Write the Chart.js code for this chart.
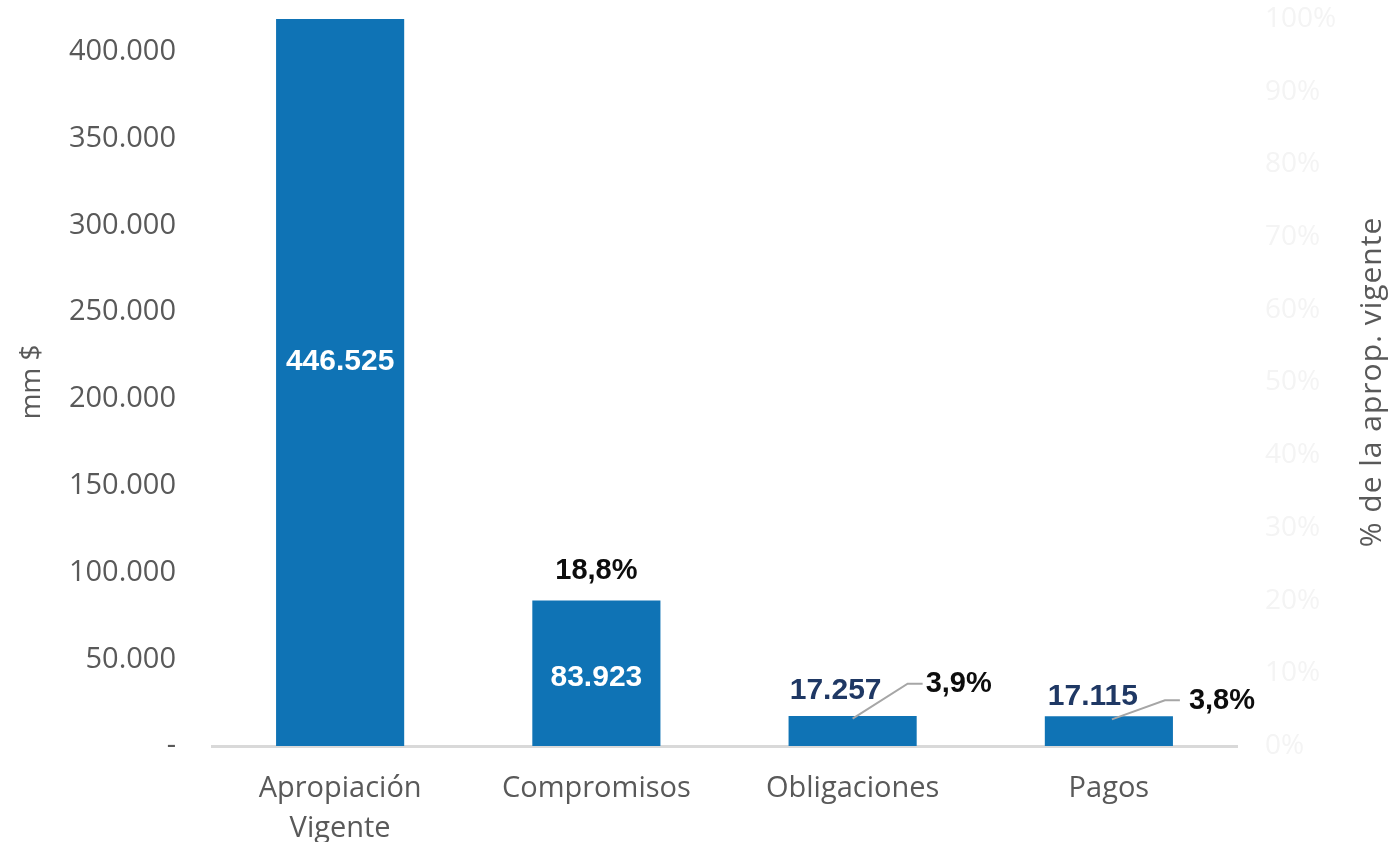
<!DOCTYPE html>
<html>
<head>
<meta charset="utf-8">
<script src="https://cdn.jsdelivr.net/npm/chart.js@4.4.1/dist/chart.umd.min.js"></script>
<style>
  html, body { margin: 0; padding: 0; background: #fff; }
  #wrap { width: 1396px; height: 842px; }
</style>
</head>
<body>
<div id="wrap"><canvas id="chart"></canvas></div>
<script>
// data
const categories = [['Apropiación', 'Vigente'], 'Compromisos', 'Obligaciones', 'Pagos'];
const amounts = [446525, 83923, 17257, 17115];          // mm $
const shares = [null, 18.8, 3.9, 3.8];                   // % de la aprop. vigente
const leftTicks = [0, 50000, 100000, 150000, 200000, 250000, 300000, 350000, 400000];
const rightTicks = [0, 10, 20, 30, 40, 50, 60, 70, 80, 90, 100];

const BAR = '#0f73b5';
const GREY = '#595959';
const NAVY = '#1f3864';

const fmtAmount = v => v === 0 ? '-' : String(v).replace(/\B(?=(\d{3})+(?!\d))/g, '.');
const fmtShare = v => v.toFixed(1).replace('.', ',') + '%';

// label placement (offsets in px from the mark)
const amountLabel = [
  { inside: true, dy: 3 },
  { inside: true, dy: 5 },
  { inside: false, dx: -17, dy: -25 },
  { inside: false, dx: -16, dy: -20 },
];
const shareLabel = [
  null,
  { dx: 0, dy: -38, align: 'center' },
  { dx: 73, dy: -34, align: 'left', leader: [[0, 1], [55, -34], [70, -34]] },
  { dx: 80, dy: -17, align: 'left', leader: [[3, 1], [56, -18], [71, -18]] },
];

const labelsPlugin = {
  id: 'labels',
  afterDatasetsDraw(chart) {
    const ctx = chart.ctx;
    const y = chart.scales.y;
    const bars = chart.getDatasetMeta(0).data;
    const pts = chart.getDatasetMeta(1).data;
    ctx.save();
    ctx.textBaseline = 'middle';
    bars.forEach((el, i) => {
      const st = amountLabel[i];
      ctx.textAlign = 'center';
      ctx.font = 'bold 30px "Liberation Sans", Arial, sans-serif';
      if (st.inside) {
        ctx.fillStyle = '#ffffff';
        ctx.fillText(fmtAmount(amounts[i]), el.x, y.getPixelForValue(amounts[i] / 2) + st.dy);
      } else {
        ctx.fillStyle = NAVY;
        ctx.fillText(fmtAmount(amounts[i]), el.x + st.dx, el.y + st.dy);
      }
    });
    pts.forEach((p, i) => {
      const st = shareLabel[i];
      if (!st || shares[i] == null) return;
      if (st.leader) {
        ctx.strokeStyle = '#a6a6a6';
        ctx.lineWidth = 2;
        ctx.beginPath();
        st.leader.forEach(([lx, ly], k) => {
          if (k === 0) ctx.moveTo(p.x + lx, p.y + ly);
          else ctx.lineTo(p.x + lx, p.y + ly);
        });
        ctx.stroke();
      }
      ctx.font = 'bold 29px "Liberation Sans", Arial, sans-serif';
      ctx.fillStyle = '#0d0d0d';
      ctx.textAlign = st.align;
      ctx.fillText(fmtShare(shares[i]), p.x + st.dx, p.y + st.dy);
    });
    ctx.restore();
  },
  afterDraw(chart) {
    // axis titles, both read bottom to top
    const ctx = chart.ctx;
    ctx.save();
    ctx.fillStyle = GREY;
    ctx.textAlign = 'center';
    ctx.textBaseline = 'middle';
    ctx.font = '28px "Open Sans", sans-serif';
    ctx.translate(32, 382);
    ctx.rotate(-Math.PI / 2);
    ctx.fillText('mm $', 0, 0);
    ctx.restore();

    ctx.save();
    ctx.fillStyle = GREY;
    ctx.textAlign = 'center';
    ctx.textBaseline = 'middle';
    ctx.font = '30px "Open Sans", sans-serif';
    ctx.letterSpacing = '1px';
    ctx.translate(1372, 382);
    ctx.rotate(-Math.PI / 2);
    ctx.fillText('% de la aprop. vigente', 0, 0);
    ctx.restore();
  }
};

new Chart(document.getElementById('chart'), {
  type: 'bar',
  plugins: [labelsPlugin],
  data: {
    labels: categories,
    datasets: [
      {
        type: 'bar',
        data: amounts,
        backgroundColor: BAR,
        yAxisID: 'y',
        categoryPercentage: 1,
        barPercentage: 0.5,
        clip: 0,
        order: 2,
      },
      {
        type: 'line',
        data: shares,
        yAxisID: 'y1',
        showLine: false,
        pointRadius: 0,
        order: 1,
      },
    ],
  },
  options: {
    responsive: true,
    maintainAspectRatio: false,
    animation: false,
    layout: { padding: { top: 19, left: 0, right: 0, bottom: 0 } },
    plugins: {
      legend: { display: false },
      tooltip: { enabled: false },
    },
    scales: {
      x: {
        grid: { display: false },
        border: { display: true, color: '#d9d9d9', width: 3 },
        ticks: {
          color: GREY,
          padding: 15,
          font: { family: '"Open Sans", sans-serif', size: 29, lineHeight: 1.38 },
          maxRotation: 0,
          autoSkip: false,
        },
        afterFit(scale) { scale.height = 96; },
      },
      y: {
        position: 'left',
        min: 0,
        max: 419000,
        grid: { display: false, drawTicks: false },
        border: { display: false },
        afterBuildTicks(axis) { axis.ticks = leftTicks.map(v => ({ value: v })); },
        ticks: {
          color: GREY,
          padding: 36,
          font: { family: '"Open Sans", sans-serif', size: 29 },
          callback: v => fmtAmount(v),
        },
        afterFit(scale) { scale.width = 212; scale.paddingTop = 0; scale.paddingBottom = 0; },
      },
      y1: {
        position: 'right',
        min: 0,
        max: 100,
        grid: { display: false, drawTicks: false },
        border: { display: false },
        afterBuildTicks(axis) { axis.ticks = rightTicks.map(v => ({ value: v })); },
        ticks: {
          color: '#f4f4f4',
          padding: 28,
          font: { family: '"Open Sans", sans-serif', size: 28 },
          callback: v => v + '%',
        },
        afterFit(scale) { scale.width = 159; scale.paddingTop = 0; scale.paddingBottom = 0; },
      },
    },
  },
});
</script>
</body>
</html>
